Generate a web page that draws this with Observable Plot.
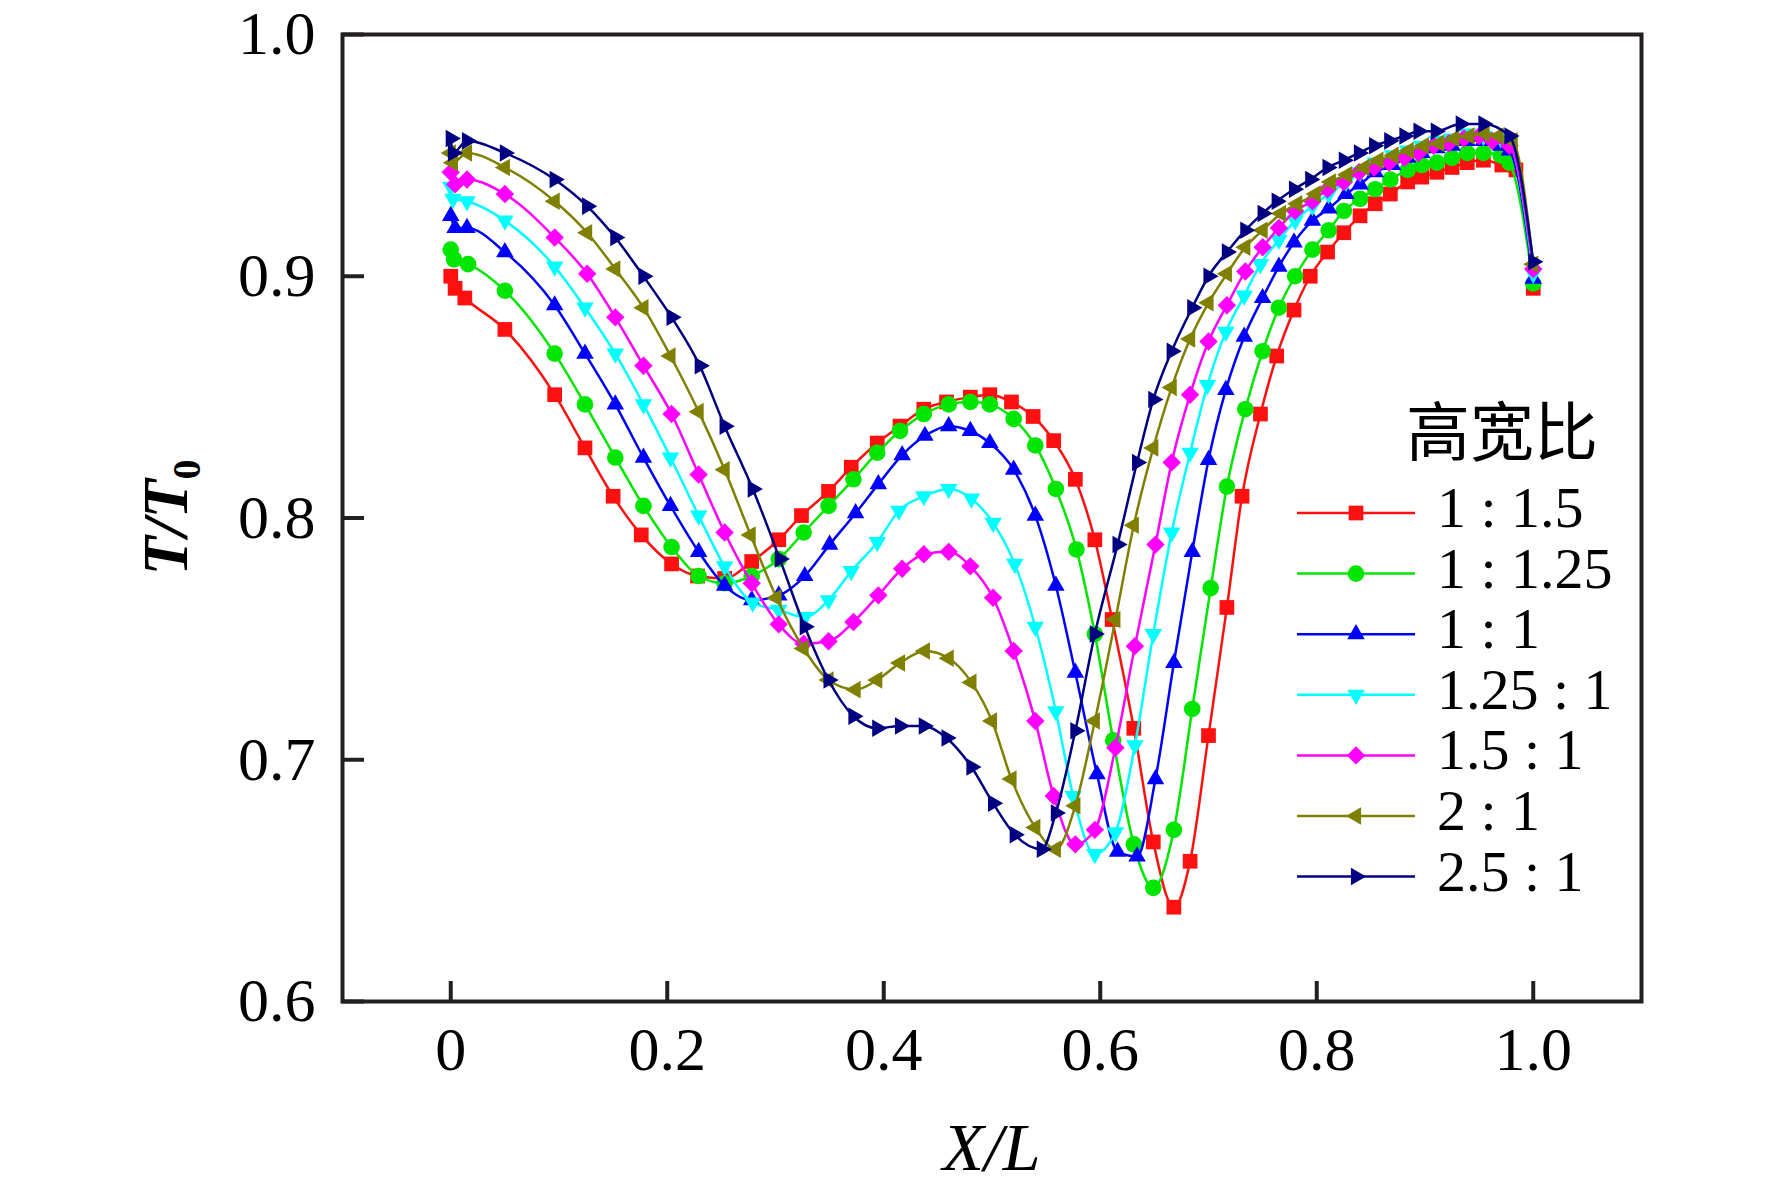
<!DOCTYPE html>
<html><head><meta charset="utf-8">
<script src="https://cdn.jsdelivr.net/npm/d3@7"></script>
<script src="https://cdn.jsdelivr.net/npm/@observablehq/plot@0.6"></script>
<style>html,body{margin:0;padding:0;background:#fff;} #chart{width:1772px;height:1189px;}</style>
</head><body><div id="chart"></div>
<script>
const seriesNames = ["1 : 1.5", "1 : 1.25", "1 : 1", "1.25 : 1", "1.5 : 1", "2 : 1", "2.5 : 1"];
const seriesColors = ["#ff1010", "#00e600", "#0000ff", "#00ffff", "#ff00ff", "#808000", "#000080"];
const legendTitle = "高宽比";
const xTicks = [0, 0.2, 0.4, 0.6, 0.8, 1.0];
const xTickLabels = ["0", "0.2", "0.4", "0.6", "0.8", "1.0"];
const yTicks = [0.6, 0.7, 0.8, 0.9, 1.0];
const yTickLabels = ["0.6", "0.7", "0.8", "0.9", "1.0"];

const x_1_1p5 = [0, 0.004, 0.013, 0.050, 0.096, 0.124, 0.150, 0.176, 0.204, 0.228, 0.253, 0.278, 0.303, 0.324, 0.349, 0.370, 0.394, 0.415, 0.437, 0.458, 0.480, 0.498, 0.518, 0.538, 0.557, 0.577, 0.595, 0.611, 0.631, 0.649, 0.668, 0.683, 0.700, 0.717, 0.731, 0.748, 0.763, 0.779, 0.794, 0.810, 0.825, 0.840, 0.854, 0.868, 0.884, 0.897, 0.911, 0.925, 0.939, 0.954, 0.971, 0.984, 1.0];
const y_1_1p5 = [0.900, 0.895, 0.891, 0.878, 0.851, 0.829, 0.809, 0.793, 0.781, 0.776, 0.775, 0.782, 0.791, 0.801, 0.811, 0.821, 0.831, 0.838, 0.845, 0.848, 0.850, 0.851, 0.848, 0.842, 0.832, 0.816, 0.791, 0.758, 0.713, 0.666, 0.639, 0.658, 0.710, 0.763, 0.809, 0.843, 0.867, 0.886, 0.900, 0.910, 0.918, 0.925, 0.930, 0.934, 0.939, 0.941, 0.943, 0.945, 0.947, 0.948, 0.946, 0.944, 0.895];

const x_1_1p25 = [0, 0.003, 0.016, 0.050, 0.096, 0.124, 0.152, 0.178, 0.204, 0.229, 0.253, 0.278, 0.303, 0.326, 0.349, 0.372, 0.394, 0.415, 0.437, 0.460, 0.480, 0.498, 0.520, 0.540, 0.559, 0.578, 0.595, 0.612, 0.631, 0.649, 0.668, 0.685, 0.702, 0.717, 0.734, 0.750, 0.765, 0.780, 0.796, 0.811, 0.825, 0.840, 0.854, 0.868, 0.884, 0.897, 0.911, 0.925, 0.939, 0.954, 0.970, 0.978, 1.0];
const y_1_1p25 = [0.911, 0.907, 0.905, 0.894, 0.868, 0.847, 0.825, 0.805, 0.788, 0.776, 0.773, 0.776, 0.783, 0.794, 0.805, 0.816, 0.827, 0.836, 0.843, 0.847, 0.848, 0.847, 0.841, 0.830, 0.812, 0.787, 0.752, 0.708, 0.665, 0.647, 0.671, 0.721, 0.771, 0.813, 0.845, 0.869, 0.887, 0.900, 0.911, 0.919, 0.927, 0.932, 0.936, 0.940, 0.944, 0.946, 0.947, 0.949, 0.951, 0.951, 0.950, 0.947, 0.897];

const x_1_1 = [0, 0.004, 0.015, 0.050, 0.096, 0.124, 0.152, 0.178, 0.203, 0.229, 0.253, 0.278, 0.303, 0.327, 0.350, 0.374, 0.395, 0.417, 0.438, 0.460, 0.480, 0.498, 0.520, 0.540, 0.559, 0.577, 0.597, 0.616, 0.634, 0.651, 0.668, 0.685, 0.700, 0.716, 0.733, 0.750, 0.765, 0.779, 0.796, 0.811, 0.827, 0.840, 0.854, 0.870, 0.884, 0.897, 0.911, 0.925, 0.939, 0.954, 0.970, 0.978, 1.0];
const y_1_1 = [0.925, 0.920, 0.920, 0.910, 0.888, 0.868, 0.847, 0.825, 0.805, 0.786, 0.772, 0.766, 0.768, 0.776, 0.789, 0.802, 0.814, 0.826, 0.834, 0.838, 0.836, 0.831, 0.820, 0.801, 0.772, 0.736, 0.694, 0.662, 0.660, 0.692, 0.740, 0.786, 0.824, 0.853, 0.875, 0.891, 0.904, 0.914, 0.923, 0.928, 0.934, 0.938, 0.943, 0.946, 0.949, 0.951, 0.953, 0.954, 0.956, 0.956, 0.954, 0.952, 0.899];

const x_1p25_1 = [0, 0.002, 0.015, 0.050, 0.096, 0.124, 0.152, 0.178, 0.203, 0.229, 0.253, 0.279, 0.303, 0.327, 0.349, 0.370, 0.394, 0.414, 0.437, 0.460, 0.481, 0.501, 0.521, 0.540, 0.559, 0.575, 0.595, 0.614, 0.632, 0.649, 0.666, 0.683, 0.699, 0.716, 0.733, 0.748, 0.765, 0.780, 0.796, 0.811, 0.827, 0.840, 0.854, 0.870, 0.884, 0.897, 0.911, 0.925, 0.939, 0.954, 0.970, 0.978, 1.0];
const y_1p25_1 = [0.937, 0.932, 0.931, 0.923, 0.904, 0.887, 0.868, 0.847, 0.825, 0.801, 0.780, 0.765, 0.762, 0.759, 0.766, 0.778, 0.790, 0.803, 0.809, 0.812, 0.808, 0.798, 0.781, 0.755, 0.720, 0.685, 0.661, 0.670, 0.706, 0.752, 0.794, 0.827, 0.855, 0.877, 0.892, 0.905, 0.915, 0.923, 0.929, 0.934, 0.939, 0.943, 0.947, 0.950, 0.952, 0.954, 0.956, 0.957, 0.959, 0.958, 0.957, 0.955, 0.901];

const x_1p5_1 = [0, 0.004, 0.015, 0.050, 0.096, 0.126, 0.152, 0.178, 0.204, 0.229, 0.253, 0.278, 0.303, 0.326, 0.349, 0.372, 0.395, 0.417, 0.437, 0.460, 0.480, 0.501, 0.520, 0.540, 0.557, 0.577, 0.595, 0.614, 0.632, 0.651, 0.666, 0.683, 0.700, 0.717, 0.734, 0.750, 0.765, 0.780, 0.796, 0.810, 0.825, 0.839, 0.853, 0.867, 0.881, 0.894, 0.908, 0.922, 0.936, 0.950, 0.962, 0.978, 1.0];
const y_1p5_1 = [0.943, 0.938, 0.940, 0.934, 0.916, 0.901, 0.883, 0.863, 0.843, 0.818, 0.794, 0.773, 0.756, 0.748, 0.749, 0.757, 0.768, 0.779, 0.785, 0.786, 0.780, 0.767, 0.745, 0.716, 0.685, 0.665, 0.671, 0.705, 0.747, 0.789, 0.823, 0.851, 0.873, 0.888, 0.902, 0.912, 0.920, 0.927, 0.931, 0.936, 0.939, 0.943, 0.945, 0.947, 0.949, 0.951, 0.954, 0.955, 0.957, 0.958, 0.956, 0.954, 0.903];

const x_2_1 = [0, 0.002, 0.015, 0.050, 0.096, 0.126, 0.152, 0.178, 0.203, 0.229, 0.253, 0.277, 0.301, 0.326, 0.349, 0.374, 0.394, 0.415, 0.438, 0.460, 0.481, 0.500, 0.518, 0.540, 0.559, 0.577, 0.595, 0.614, 0.631, 0.649, 0.666, 0.683, 0.700, 0.717, 0.734, 0.750, 0.767, 0.782, 0.799, 0.813, 0.828, 0.844, 0.857, 0.871, 0.885, 0.899, 0.913, 0.927, 0.941, 0.955, 0.968, 0.981, 1.0];
const y_2_1 = [0.951, 0.947, 0.951, 0.945, 0.931, 0.918, 0.903, 0.887, 0.867, 0.844, 0.820, 0.793, 0.767, 0.746, 0.733, 0.729, 0.733, 0.740, 0.745, 0.742, 0.732, 0.716, 0.692, 0.672, 0.663, 0.681, 0.716, 0.758, 0.797, 0.829, 0.854, 0.874, 0.889, 0.901, 0.912, 0.919, 0.926, 0.930, 0.934, 0.939, 0.942, 0.945, 0.948, 0.950, 0.952, 0.954, 0.955, 0.957, 0.958, 0.959, 0.958, 0.956, 0.905];

const x_2p5_1 = [0, 0.002, 0.015, 0.050, 0.096, 0.126, 0.152, 0.178, 0.204, 0.230, 0.253, 0.279, 0.304, 0.327, 0.349, 0.372, 0.394, 0.415, 0.437, 0.458, 0.481, 0.501, 0.521, 0.546, 0.559, 0.577, 0.595, 0.616, 0.634, 0.649, 0.666, 0.685, 0.700, 0.717, 0.734, 0.750, 0.763, 0.779, 0.794, 0.810, 0.825, 0.839, 0.853, 0.867, 0.881, 0.894, 0.910, 0.933, 0.954, 0.978, 1.0];
const y_2p5_1 = [0.957, 0.951, 0.956, 0.951, 0.940, 0.929, 0.916, 0.900, 0.883, 0.863, 0.838, 0.812, 0.783, 0.755, 0.733, 0.718, 0.713, 0.714, 0.714, 0.709, 0.697, 0.682, 0.669, 0.663, 0.678, 0.712, 0.752, 0.789, 0.823, 0.849, 0.869, 0.887, 0.900, 0.910, 0.919, 0.926, 0.931, 0.936, 0.940, 0.945, 0.948, 0.951, 0.954, 0.956, 0.958, 0.960, 0.960, 0.963, 0.963, 0.958, 0.906];

const seriesX = [x_1_1p5, x_1_1p25, x_1_1, x_1p25_1, x_1p5_1, x_2_1, x_2p5_1];
const seriesY = [y_1_1p5, y_1_1p25, y_1_1, y_1p25_1, y_1p5_1, y_2_1, y_2p5_1];

// triangle symbols in four orientations
function tri(angleDeg) {
  return {draw(ctx, size) {
    const R = Math.sqrt(size / Math.PI) * 1.22;
    for (let k = 0; k < 3; k++) {
      const a = (angleDeg + k * 120) * Math.PI / 180;
      const px = R * Math.cos(a), py = R * Math.sin(a);
      if (k) ctx.lineTo(px, py); else ctx.moveTo(px, py);
    }
    ctx.closePath();
  }};
}
const seriesSymbols = [d3.symbolSquare, d3.symbolCircle, tri(-90), tri(90), d3.symbolDiamond2, tri(180), tri(0)];

const W = 1772, H = 1189;
const mL = 342, mR = 131, mT = 34, mB = 188;
const frameColor = "#231f20";
const serif = "'Liberation Serif', 'Times New Roman', serif";
const R_DOT = 8.3;

const marks = [];
seriesNames.forEach((name, i) => {
  const data = seriesX[i].map((x, j) => ({x, y: seriesY[i][j], series: name}));
  marks.push(Plot.line(data, {x: "x", y: "y", stroke: seriesColors[i], strokeWidth: 2.5, curve: "monotone-x"}));
  marks.push(Plot.dot(data, {x: "x", y: "y", fill: seriesColors[i], stroke: "none", symbol: seriesSymbols[i], r: R_DOT}));
});

const chart = Plot.plot({
  width: W, height: H,
  marginLeft: mL, marginRight: mR, marginTop: mT, marginBottom: mB,
  style: {fontFamily: serif, background: "#fff", overflow: "visible"},
  x: {domain: [-0.1, 1.1]},
  y: {domain: [0.6, 1.0]},
  marks: [
    ...marks,
    Plot.tickX(xTicks, {x: d => d, stroke: frameColor, strokeWidth: 4, insetTop: (H - mT - mB) - 20}),
    Plot.tickY(yTicks, {y: d => d, stroke: frameColor, strokeWidth: 4, insetRight: (W - mL - mR) - 22}),
    Plot.frame({stroke: frameColor, strokeWidth: 4}),
    Plot.axisX({ticks: xTicks, tickSize: 0, tickPadding: 24, label: null, fontSize: 62, fill: "#000",
      tickFormat: d => xTickLabels[xTicks.indexOf(d)]}),
    Plot.axisY({ticks: yTicks, tickSize: 0, tickPadding: 27, label: null, fontSize: 62, fill: "#000",
      tickFormat: d => yTickLabels[yTicks.findIndex(t => Math.abs(t - d) < 1e-9)]})
  ]
});
document.getElementById("chart").appendChild(chart);

const svg = d3.select(chart);

// X axis title
svg.append("text")
  .attr("x", (mL + W - mR) / 2).attr("y", 1170)
  .attr("text-anchor", "middle")
  .attr("font-family", serif).attr("font-size", 68).attr("font-style", "italic")
  .attr("fill", "#000")
  .text("X/L");

// Y axis title
const yl = svg.append("text")
  .attr("transform", `translate(187,${(mT + H - mB) / 2}) rotate(-90)`)
  .attr("text-anchor", "middle")
  .attr("font-family", serif).attr("font-size", 64).attr("fill", "#000");
yl.append("tspan").attr("font-style", "italic").attr("font-weight", "bold").text("T/T");
yl.append("tspan").attr("font-size", 40).attr("font-weight", "bold").attr("dy", 13).text("0");

// Legend
const lg = svg.append("g").attr("text-anchor", "start");
lg.append("text")
  .attr("x", 1502).attr("y", 455).attr("text-anchor", "middle")
  .attr("font-family", "'Noto Sans CJK SC', sans-serif").attr("font-size", 64).attr("fill", "#000")
  .text(legendTitle);
const rowY0 = 513, rowStep = 60.6;
seriesNames.forEach((name, i) => {
  const yy = rowY0 + i * rowStep;
  lg.append("line").attr("x1", 1297).attr("x2", 1415).attr("y1", yy).attr("y2", yy)
    .attr("stroke", seriesColors[i]).attr("stroke-width", 2.5);
  lg.append("path")
    .attr("transform", `translate(1356,${yy})`)
    .attr("d", d3.symbol(seriesSymbols[i], Math.PI * R_DOT * R_DOT)())
    .attr("fill", seriesColors[i]);
  lg.append("text").attr("x", 1437).attr("y", yy + 14)
    .attr("text-anchor", "start")
    .attr("font-family", serif).attr("font-size", 58).attr("fill", "#000")
    .text(name);
});
</script>
</body></html>
